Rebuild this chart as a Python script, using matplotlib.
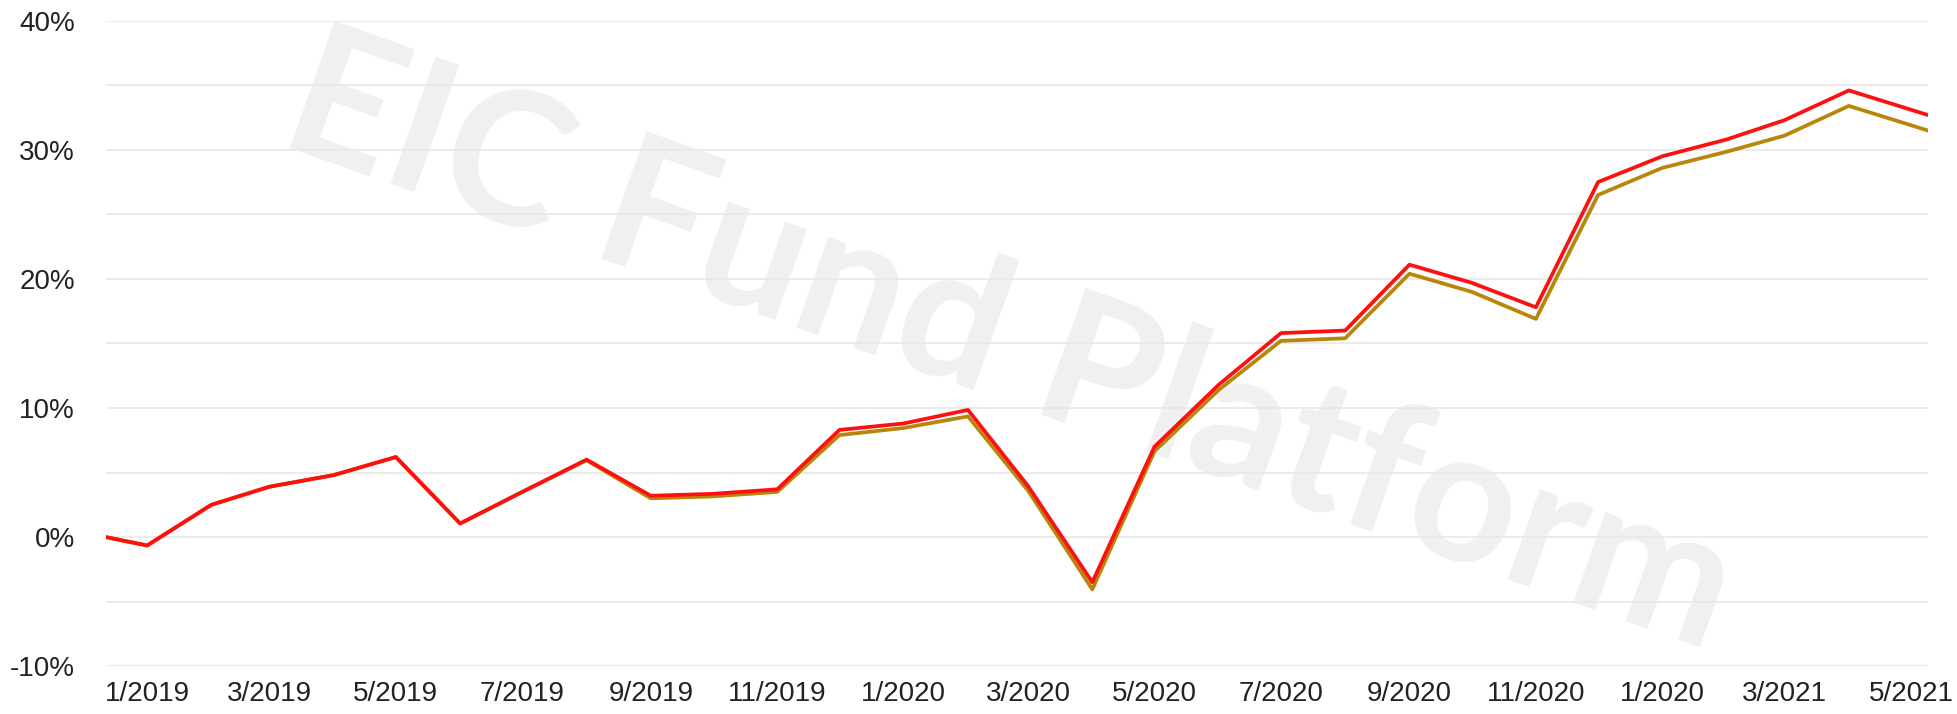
import matplotlib
matplotlib.use("Agg")
import matplotlib.pyplot as plt
import pandas as pd

# ---- data (cumulative return, %) ----
dates = pd.to_datetime(
    ["2018-12-12"]
    + [f"{y}-{m:02d}-01" for y in (2019, 2020) for m in range(1, 13)]
    + ["2021-01-01", "2021-02-01", "2021-03-01", "2021-04-01", "2021-05-09"]
)
fund = [0, -0.65, 2.5, 3.9, 4.8, 6.2, 1.05, 3.5, 6.0, 3.2, 3.35, 3.7,
        8.3, 8.8, 9.85, 3.95, -3.5, 7.0, 11.8, 15.8, 16.0, 21.1, 19.7, 17.8,
        27.5, 29.5, 30.8, 32.3, 34.6, 32.7]
bench = [0, -0.65, 2.5, 3.9, 4.8, 6.2, 1.05, 3.5, 5.95, 3.0, 3.15, 3.5,
         7.9, 8.45, 9.35, 3.6, -4.05, 6.65, 11.4, 15.2, 15.4, 20.4, 19.0, 16.9,
         26.5, 28.6, 29.85, 31.1, 33.4, 31.5]

tick_dates = pd.to_datetime(["2019-01-01", "2019-03-01", "2019-05-01", "2019-07-01",
                             "2019-09-01", "2019-11-01", "2020-01-01", "2020-03-01",
                             "2020-05-01", "2020-07-01", "2020-09-01", "2020-11-01",
                             "2021-01-01", "2021-03-01", "2021-05-01"])
tick_labels = ["1/2019", "3/2019", "5/2019", "7/2019", "9/2019", "11/2019", "1/2020",
               "3/2020", "5/2020", "7/2020", "9/2020", "11/2020", "1/2020",
               "3/2021", "5/2021"]
y_major = [-10, 0, 10, 20, 30, 40]
y_minor = [-5, 5, 15, 25, 35]

plt.rcParams["font.family"] = ["Liberation Sans", "DejaVu Sans"]

fig = plt.figure(figsize=(19.57, 7.14), dpi=100)
ax = fig.add_axes([0.054, 0.067, 0.931, 0.904])

# watermark (under the grid lines)
ax.text(0.516, 0.515, "EIC Fund Platform", transform=fig.transFigure,
        fontsize=134, fontweight="bold", family="Lato", color="#f0f0f0",
        rotation=-19.5, ha="center", va="center", zorder=0.5, clip_on=False)

ax.plot(dates, bench, color="#b8860b", lw=2.7, zorder=3)
ax.plot(dates, fund, color="#ff1010", lw=2.7, zorder=4)

ax.set_xlim(dates[0], dates[-1])
ax.set_ylim(-10, 40)
ax.set_yticks(y_major)
ax.set_yticks(y_minor, minor=True)
ax.set_yticklabels([f"{v}%" for v in y_major])
ax.set_xticks(tick_dates)
ax.set_xticklabels(tick_labels)

ax.grid(True, axis="y", which="both", color="#e8e8e8", lw=1.2, zorder=1)
ax.tick_params(axis="both", which="both", length=0, labelsize=20, colors="#222222")
ax.tick_params(axis="y", pad=22)
ax.tick_params(axis="x", pad=11)
for s in ax.spines.values():
    s.set_visible(False)

fig.savefig("out.png", dpi=100)
